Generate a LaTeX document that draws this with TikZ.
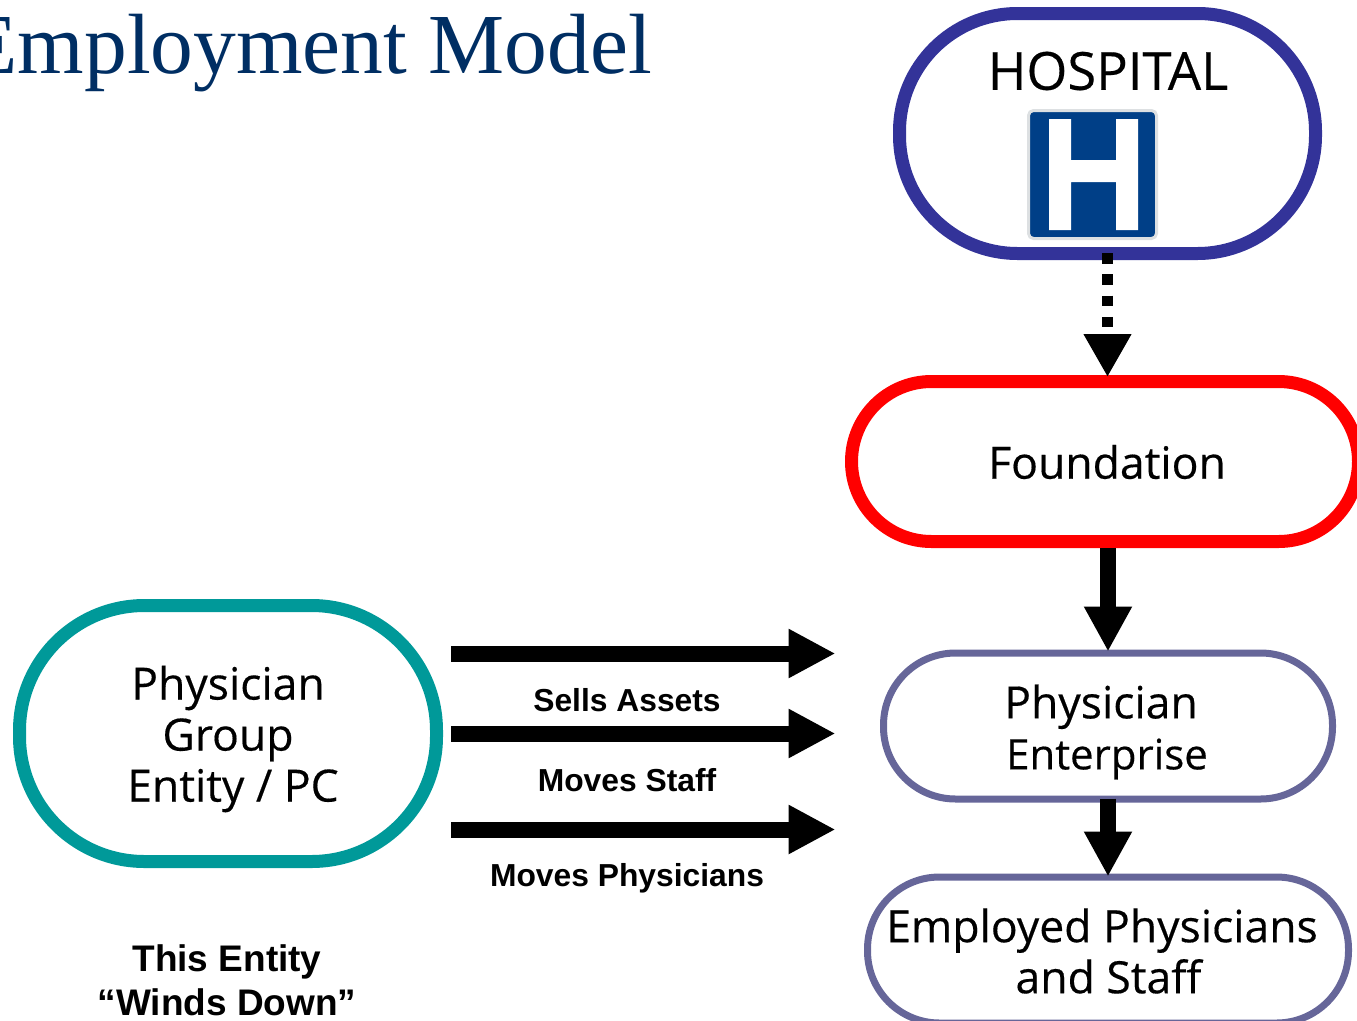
\documentclass[tikz,border=0pt]{standalone}
\usepackage{fontspec}
\newfontfamily\pillfont[FakeBold=0.35]{Open Sans}
\newfontfamily\labelfont{Liberation Sans}
\newfontfamily\titlefont{Liberation Serif}
\usepackage{tikz}
\usetikzlibrary{arrows.meta}

\definecolor{hospitalblue}{HTML}{333399}
\definecolor{signblue}{HTML}{003F87}
\definecolor{signgray}{HTML}{DDE0E2}
\definecolor{groupteal}{HTML}{009999}
\definecolor{enterprisegray}{HTML}{666699}
\definecolor{titlenavy}{HTML}{002E63}

\tikzset{
  pill/.style={draw, inner sep=0pt},
  pilltext/.style={font=\pillfont\fontsize{44.5}{51}\selectfont, align=center},
  flow/.style={line width=16pt, -{Triangle[length=45pt,width=45pt]}, shorten >=-1pt},
  move/.style={line width=16pt, -{Triangle[length=47pt,width=46pt]}},
  note/.style={font=\labelfont\bfseries\fontsize{31.8}{44}\selectfont, align=center}
}

\begin{document}
\begin{tikzpicture}[x=1pt,y=-1pt]
  \useasboundingbox (0,0) rectangle (1357,1020);
  \clip (0,0) rectangle (1357,1020);

% Nodes
  \node[pill, color=hospitalblue, line width=13pt, rounded corners=118pt,
    minimum width=416pt, minimum height=240pt] (hospital) at (1107.5,133.5) {};
  \node[pill, color=red, line width=13pt, rounded corners=80pt,
    minimum width=507pt, minimum height=160pt] (foundation) at (1105,461.5) {};
  \node[pill, color=enterprisegray, line width=7pt, rounded corners=72pt,
    minimum width=449pt, minimum height=146pt] (enterprise) at (1108,726) {};
  \node[pill, color=enterprisegray, line width=7pt, rounded corners=72pt,
    minimum width=481pt, minimum height=146pt] (employed) at (1108,950) {};
  \node[pill, color=groupteal, line width=13pt, rounded corners=125pt,
    minimum width=417pt, minimum height=256pt] (group) at (228,733.5) {};

% Texts
  \node[font=\pillfont\fontsize{52.5}{53}\selectfont] (hospitaltext) at (1108,71) {HOSPITAL};
  \node[pilltext] (foundationtext) at (1107,462) {Foundation};
  \node[pilltext] (enterprisetext) at (1101,732) {Physician\\\hspace*{12pt}{\fontsize{42}{51}\selectfont Enterprise}};
  \node[pilltext] (employedtext) at (1102,951) {Employed Physicians\\\hspace*{13pt}and Staff};
  \node[pilltext] (grouptext) at (228,739) {Physician\\Group\\\hspace*{10pt}Entity / PC};
  \node[note] (sells) at (627,700) {Sells Assets};
  \node[note] (staff) at (627,780) {Moves Staff};
  \node[note] (physicians) at (627,878) {Moves Physicians};
  \node[font=\labelfont\bfseries\fontsize{37}{44}\selectfont, align=center] (winds) at (227,980) {This Entity\\“Winds Down”};
  \node[anchor=base east, inner sep=0pt, text=titlenavy, font=\titlefont\fontsize{85.5}{86}\selectfont] (title) at (652,73) {Employment Model};

% Sign
  \node[draw=signgray, fill=signblue, line width=3pt, rounded corners=5pt,
    minimum width=128pt, minimum height=128pt, inner sep=0pt] (sign) at (1092.5,174.5) {};
  \fill[white] (1049,119) rectangle (1071,230) (1116,119) rectangle (1138,230) (1071,160) rectangle (1116,182);

% Edges
  \coordinate (m1s) at (451,653.5);
  \coordinate (m1e) at (835.5,653.5);
  \coordinate (m2s) at (451,733.5);
  \coordinate (m2e) at (835.5,733.5);
  \coordinate (m3s) at (451,829.5);
  \coordinate (m3e) at (835.5,829.5);
  \draw[move] (m1s) -- (m1e);
  \draw[move] (m2s) -- (m2e);
  \draw[move] (m3s) -- (m3e);

  \draw[flow, shorten >=-2pt] (foundation.south -| enterprise.north) -- (enterprise.north);
  \draw[flow, shorten >=-3pt] (enterprise.south) ++(0,-4) -- (employed.north);
  \draw[line width=10.5pt, dash pattern=on 10.5pt off 10.8pt, -{Triangle[length=43pt,width=45pt]}, shorten >=-2pt]
    (hospital.south -| foundation.north) ++(2.5,-7) coordinate (dotstart) -- (dotstart |- foundation.north);
\end{tikzpicture}
\end{document}
